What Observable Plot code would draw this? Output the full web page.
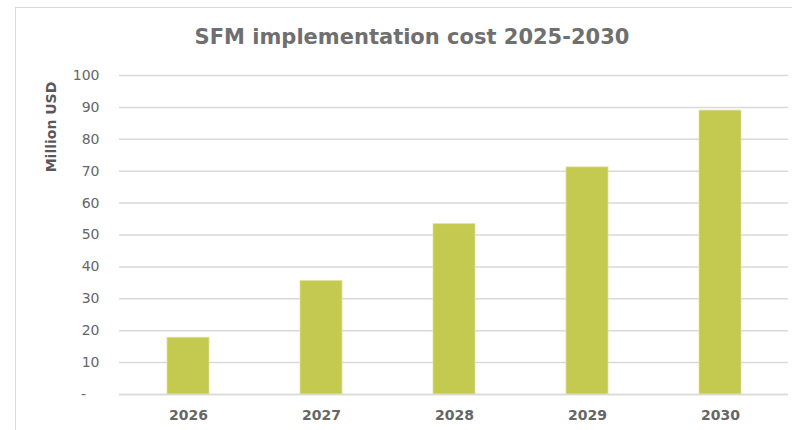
<!DOCTYPE html>
<html>
<head>
<meta charset="utf-8">
<script src="https://cdn.jsdelivr.net/npm/d3@7"></script>
<script src="https://cdn.jsdelivr.net/npm/@observablehq/plot@0.6"></script>
<style>
  html, body { margin: 0; padding: 0; background: #fff; }
  #wrap { position: relative; width: 792px; height: 430px; overflow: hidden; }
  #frame { position: absolute; left: 15px; top: 7px; width: 800px; height: 440px;
           border: 1.5px solid #d9d9d9; box-sizing: border-box; }
  #title { position: absolute; left: 0; top: 25px; width: 824px; text-align: center;
           font-family: "DejaVu Sans", sans-serif; font-weight: bold; font-size: 21px;
           color: #6f6f6f; white-space: nowrap; }
  #ylabel { position: absolute; left: 51px; top: 127px; transform: translate(-50%, -50%) rotate(-90deg);
            font-family: "DejaVu Sans", sans-serif; font-weight: bold; font-size: 14px;
            color: #595959; white-space: nowrap; }
  #chart { position: absolute; left: 0; top: 0; }
</style>
</head>
<body>
<div id="wrap">
  <div id="frame"></div>
  <div id="chart"></div>
  <div id="title">SFM implementation cost 2025-2030</div>
  <div id="ylabel">Million USD</div>
</div>
<script>
const years = ["2026", "2027", "2028", "2029", "2030"];
const costs = [17.8, 35.6, 53.4, 71.2, 89.0];
const yTicks = [0, 10, 20, 30, 40, 50, 60, 70, 80, 90, 100];

const data = years.map((y, i) => ({year: y, cost: costs[i]}));

const chart = Plot.plot({
  width: 792,
  height: 430,
  marginLeft: 119,
  marginRight: 4,
  marginTop: 75,
  marginBottom: 36,
  style: { fontFamily: "DejaVu Sans, sans-serif", fontSize: "14px", color: "#666", background: "transparent" },
  x: { domain: years, paddingInner: 0.686, paddingOuter: 0.343, label: null },
  y: { domain: [0, 100], label: null },
  marks: [
    Plot.gridY(yTicks, { stroke: "#d9d9d9", strokeWidth: 1.5, strokeOpacity: 1 }),
    Plot.barY(data, { x: "year", y: "cost", fill: "#c4c950", stroke: "#dfe39a", strokeWidth: 0.8 }),
    Plot.ruleY([0], { stroke: "#d9d9d9", strokeWidth: 1.5 }),
    Plot.axisY(yTicks, { tickSize: 0, tickPadding: 20, fill: "#666", label: null,
      tickFormat: d => d === 0 ? "-\u00a0\u00a0\u00a0" : String(d) }),
    Plot.axisX({ tickSize: 0, tickPadding: 16, fill: "#666", label: null, fontWeight: "bold" })
  ]
});
document.getElementById("chart").appendChild(chart);
</script>
</body>
</html>
